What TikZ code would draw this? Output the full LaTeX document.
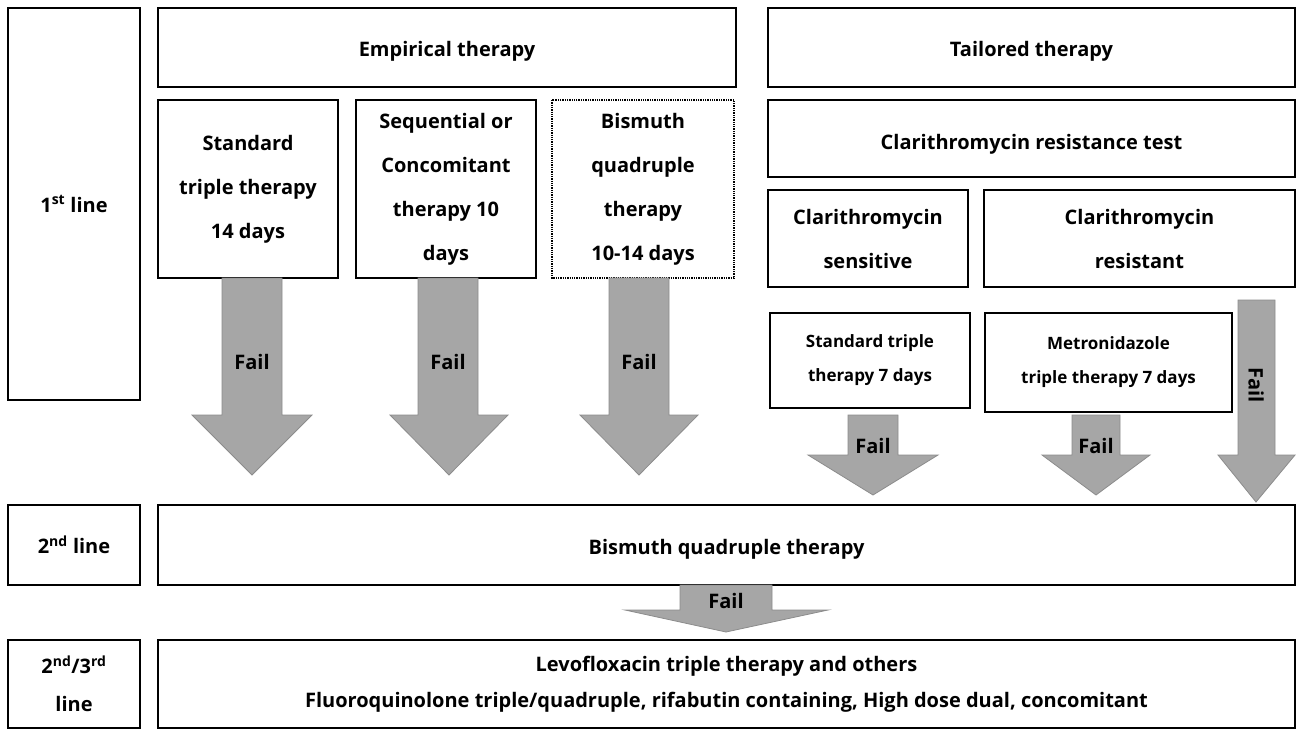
\documentclass[tikz,border=0pt]{standalone}
\usepackage{fontspec}
\setmainfont{Open Sans}[BoldFont={Open Sans Bold}]
\begin{document}
\begin{tikzpicture}[x=1pt,y=-1pt,
 box/.style={draw,line width=1.3pt},
 t/.style={align=center,font=\fontsize{20}{44}\selectfont\bfseries},
 ts/.style={align=center,font=\fontsize{17}{34}\selectfont\bfseries},
 arr/.style={fill=black!35,draw=black!45,line width=0.8pt},
 lbl/.style={font=\fontsize{20}{24}\selectfont\bfseries}]
\useasboundingbox (0,0) rectangle (1300,732);
\draw[box] (8,8) rectangle (140,400) node[t,midway] (l1) {1\textsuperscript{st} line};
\draw[box] (8,505) rectangle (140,585) node[t,midway] (l2) {2\textsuperscript{nd} line};
\draw[box] (8,640) rectangle (140,728) node[t,midway,font=\fontsize{20}{38}\selectfont\bfseries] (l3) {2\textsuperscript{nd}/3\textsuperscript{rd}\\line};
\draw[box] (158,8) rectangle (736,87) node[t,midway,yshift=-4] (emp) {Empirical therapy};
\draw[box] (768,8) rectangle (1295,87) node[t,midway,yshift=-4] (tai) {Tailored therapy};
\draw[box] (158,100) rectangle (338,278) node[t,midway] (st) {Standard\\triple therapy\\14 days};
\draw[box] (356,100) rectangle (536,278) node[t,midway] (sq) {Sequential or\\Concomitant\\therapy 10\\days};
\draw[box,densely dotted] (552,100) rectangle (734,278) node[t,midway] (bq) {Bismuth\\quadruple\\therapy\\10-14 days};
\draw[box] (768,100) rectangle (1295,177) node[t,midway,yshift=-6] (crt) {Clarithromycin resistance test};
\draw[box] (768,190) rectangle (968,287) node[t,midway] (cs) {Clarithromycin\\sensitive};
\draw[box] (984,190) rectangle (1295,287) node[t,midway] (cr) {Clarithromycin\\resistant};
\draw[box] (770,313) rectangle (970,408) node[ts,midway] (s7) {Standard triple\\therapy 7 days};
\draw[box] (985,313) rectangle (1232,412) node[ts,midway] (m7) {Metronidazole\\triple therapy 7 days};
\draw[box] (158,505) rectangle (1295,585) node[t,midway,yshift=-4] (bq2) {Bismuth quadruple therapy};
\draw[box] (158,640) rectangle (1295,728) node[midway,align=center,font=\fontsize{20}{36}\selectfont\bfseries] (lev) {Levofloxacin triple therapy and others\\Fluoroquinolone triple/quadruple, rifabutin containing, High dose dual, concomitant};
\foreach \a/\b/\c/\d in {222/282/192/312,418/478/390/508,609/669/580/698}{
 \draw[arr] (\a,278)--(\b,278)--(\b,415)--(\d,415)--({(\c+\d)/2},475)--(\c,415)--(\a,415)--cycle;
 \node[lbl] at ({(\a+\b)/2},362) {Fail};}
\foreach \a/\b/\c/\d in {848/898/808/938,1072/1120/1042/1150}{
 \draw[arr] (\a,415)--(\b,415)--(\b,455)--(\d,455)--({(\c+\d)/2},495)--(\c,455)--(\a,455)--cycle;
 \node[lbl] at ({(\a+\b)/2},446) {Fail};}
\draw[arr] (1238,300)--(1275,300)--(1275,455)--(1295,455)--(1256,502)--(1218,455)--(1238,455)--cycle;
\node[lbl,rotate=-90] at (1256,385) {Fail};
\draw[arr] (680,585)--(772,585)--(772,610)--(828,610)--(726,632)--(625,610)--(680,610)--cycle;
\node[lbl] at (726,601) {Fail};
\end{tikzpicture}
\end{document}
